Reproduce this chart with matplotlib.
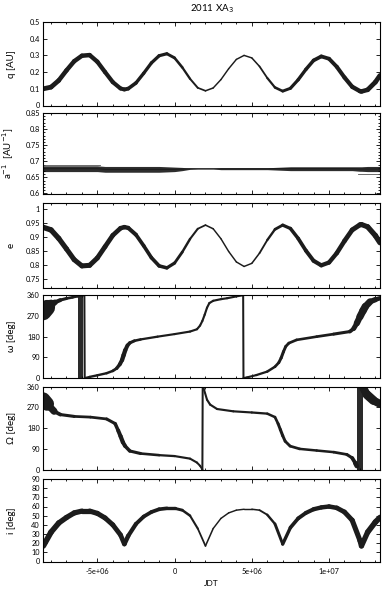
import numpy as np
import matplotlib
matplotlib.use("Agg")
import matplotlib.pyplot as plt
from matplotlib.collections import LineCollection
from matplotlib.ticker import MultipleLocator, FormatStrFormatter

plt.rcParams['font.family'] = ['Lato', 'DejaVu Sans']
plt.rcParams['mathtext.fontset'] = 'dejavusans'
plt.rcParams['mathtext.default'] = 'rm'

# ---------------- data (JDT in units of 1e6) ----------------
JDT_UNIT = 1e6
title = "2011 XA$_3$"
xlabel = "JDT"
ylabels = ["q [AU]", "a$^{-1}$  [AU$^{-1}$]", "e", "\u03c9 [deg]", "\u03a9 [deg]", "i [deg]"]
xtick_values = [-5e6, 0, 5e6, 1e7]

jdt = [-8.5, -8.0, -7.5, -7.0, -6.5, -6.0, -5.5, -5.0, -4.5, -4.0, -3.5, -3.25, -3.0,
       -2.5, -2.0, -1.5, -1.0, -0.5, 0.0, 0.5, 1.0, 1.5, 2.0, 2.5, 3.0, 3.5, 4.0, 4.5,
       5.0, 5.5, 6.0, 6.5, 7.0, 7.5, 8.0, 8.5, 9.0, 9.5, 10.0, 10.5, 11.0, 11.5, 12.0,
       12.1, 12.5, 13.0, 13.3]

q = [0.100, 0.110, 0.150, 0.210, 0.265, 0.298, 0.302, 0.262, 0.200, 0.140, 0.102, 0.096,
     0.101, 0.135, 0.193, 0.255, 0.298, 0.310, 0.285, 0.228, 0.160, 0.106, 0.088, 0.105,
     0.155, 0.220, 0.276, 0.300, 0.285, 0.234, 0.165, 0.108, 0.086, 0.103, 0.154, 0.216,
     0.270, 0.294, 0.280, 0.232, 0.168, 0.112, 0.086, 0.084, 0.094, 0.140, 0.180]

ecc = [0.934, 0.925, 0.895, 0.858, 0.820, 0.798, 0.800, 0.826, 0.866, 0.906, 0.931, 0.935,
       0.932, 0.908, 0.869, 0.827, 0.798, 0.791, 0.808, 0.847, 0.893, 0.929, 0.942, 0.929,
       0.894, 0.849, 0.812, 0.796, 0.807, 0.843, 0.889, 0.927, 0.942, 0.930, 0.895, 0.852,
       0.816, 0.800, 0.810, 0.843, 0.886, 0.925, 0.943, 0.944, 0.936, 0.905, 0.880]

incl = [17, 32, 42, 48, 53, 55, 55, 52.5, 47.5, 40, 29, 19, 28, 41, 49, 54, 57, 58, 58,
        56, 50, 36, 17, 36, 47, 53, 56, 57, 57, 56, 51, 41, 19, 37, 47, 53, 57, 59, 60,
        58.5, 54, 45, 23, 17, 32, 43, 48]

# relative scatter of the clone cloud along the integration (0 = single line)
scatter = [1.0, 1.0, 0.95, 0.9, 0.9, 0.9, 0.9, 0.85, 0.85, 0.8, 0.8, 0.75, 0.7, 0.6,
           0.55, 0.55, 0.55, 0.5, 0.4, 0.3, 0.2, 0.1, 0.05, 0.0, 0.0, 0.0, 0.0, 0.0, 0.0,
           0.05, 0.15, 0.3, 0.4, 0.5, 0.55, 0.6, 0.65, 0.7, 0.7, 0.75, 0.8, 0.85, 0.9,
           0.9, 0.95, 1.0, 1.0]
q_scatter_max = 0.010
ecc_scatter_max = 0.007
incl_scatter_max = 2.3

inv_a = [0.677, 0.677, 0.677, 0.677, 0.677, 0.677, 0.677, 0.677, 0.675, 0.675, 0.675,
         0.675, 0.675, 0.675, 0.675, 0.675, 0.675, 0.675, 0.675, 0.676, 0.677, 0.677,
         0.677, 0.677, 0.677, 0.677, 0.677, 0.677, 0.677, 0.677, 0.677, 0.677, 0.677,
         0.677, 0.677, 0.677, 0.677, 0.677, 0.677, 0.677, 0.677, 0.677, 0.676, 0.676,
         0.676, 0.676, 0.676]
inv_a_spread = [0.009, 0.009, 0.009, 0.009, 0.009, 0.009, 0.009, 0.009, 0.009, 0.009,
                0.009, 0.009, 0.009, 0.009, 0.009, 0.009, 0.009, 0.008, 0.007, 0.005,
                0.002, 0.001, 0.001, 0.001, 0.003, 0.003, 0.003, 0.003, 0.003, 0.003,
                0.003, 0.004, 0.005, 0.006, 0.006, 0.006, 0.006, 0.006, 0.006, 0.006,
                0.006, 0.006, 0.007, 0.007, 0.008, 0.008, 0.008]
inv_a_high_t = [-8.5, -4.8]
inv_a_high = [0.690, 0.690]
inv_a_low_t = [11.9, 13.3]
inv_a_low = [0.662, 0.662]

omega_t = [-8.5, -8.25, -8.0, -7.75, -7.4, -7.0, -6.6, -6.3, -6.1, -5.84, -5.82, -5.5,
           -5.0, -4.4, -4.0, -3.75, -3.55, -3.4, -3.3, -3.19, -3.05, -2.9, -2.6, -2.2,
           -1.1, 0.0, 1.0, 1.45, 1.65, 1.8, 1.95, 2.1, 2.25, 2.5, 3.0, 3.4, 4.0, 4.44,
           4.46, 4.7, 5.3, 6.0, 6.5, 6.75, 6.9, 7.05, 7.2, 7.4, 7.9, 9.2, 10.3, 11.35,
           11.6, 11.8, 12.0, 12.2, 12.35, 12.65, 13.0, 13.3]
omega = [285, 305, 320, 328, 338, 345, 350, 354, 357, 359, 1, 6, 13, 22, 32, 43, 60, 79,
         100, 122, 142, 153, 162, 168, 180, 191, 202, 212, 228, 248, 275, 305, 325, 335,
         342, 346, 354, 359, 1, 4, 14, 29, 50, 68, 88, 115, 138, 152, 166, 180, 191, 202,
         215, 238, 266, 292, 310, 331, 340, 346]
omega_spread = [40, 22, 12, 7, 4, 3, 2.5, 2, 2, 1.2, 1.2, 2, 2, 2, 2.5, 3.5, 5, 6, 6.5, 6,
                5, 4, 3, 2, 1.5, 1.5, 1.5, 1.5, 1.5, 1.5, 1.5, 1.5, 1.5, 1.5, 1.5, 1.5,
                1.5, 1.2, 1.2, 1.5, 1.5, 2, 2.5, 3, 3.5, 3.5, 3, 3, 2.5, 2.5, 3, 4, 6, 9,
                12, 13, 13, 10, 7, 6]
omega_wrap = [-6.27, -5.92]

node_t = [-8.5, -8.25, -7.8, -7.4, -6.5, -5.45, -4.4, -3.85, -3.65, -3.5, -3.35, -3.2,
          -2.9, -2.2, -1.0, 0.0, 1.0, 1.45, 1.65, 1.78, 1.80, 1.82, 1.9, 2.1, 2.3, 2.75,
          3.8, 5.0, 6.0, 6.5, 6.7, 6.85, 7.0, 7.16, 7.48, 8.1, 9.2, 10.3, 11.15, 11.5,
          11.7, 11.8, 12.0, 12.23, 12.45, 12.87, 13.3]
node = [305, 285, 253, 239, 231, 228, 220, 200, 170, 146, 120, 103, 82, 71, 64, 60, 49,
        32, 18, 5, 0, 360, 348, 303, 282, 263, 253, 248, 243, 228, 200, 174, 148, 124,
        103, 91, 84, 77, 67, 52, 30, 17, np.nan, 352, 325, 300, 285]
node_spread = [35, 18, 6, 4, 3, 2.5, 3, 4, 5, 6, 6, 5, 4, 3, 2, 1.5, 1.5, 1.2, 1.2, 1.2,
               1.2, 1.2, 1.2, 1.5, 1.5, 1.5, 1.5, 1.5, 2, 2.5, 3, 3.5, 3.5, 3, 3, 2.5, 2,
               2.5, 3, 4, 6, 8, 0, 12, 16, 16, 12]
node_wrap = [11.8, 12.23]

# ---------------- figure ----------------
W, H, DPI = 382, 589, 100
fig = plt.figure(figsize=(W / DPI, H / DPI), dpi=DPI)
LEFT, RIGHT = 43.3, 380.0
panels_px = [(22, 105.5), (113, 193.5), (203, 288), (295, 378.3), (386.5, 470), (479, 561.5)]
ylims = [(0, 0.5), (0.6, 0.85), (0.72, 1.02), (0, 360), (0, 360), (0, 90)]
ysteps = [0.1, 0.05, 0.05, 90, 90, 10]
yminor = [None, 0.01, None, None, None, None]
XLIM = (-8.5e6, 13.3e6)
INK = '#1c1c1c'

axes = []
for k, (top, bot) in enumerate(panels_px):
    ax = fig.add_axes([LEFT / W, 1 - bot / H, (RIGHT - LEFT) / W, (bot - top) / H])
    ax.set_xlim(*XLIM)
    ax.set_ylim(*ylims[k])
    ax.xaxis.set_major_locator(MultipleLocator(5e6))
    ax.xaxis.set_minor_locator(MultipleLocator(1e6))
    ax.yaxis.set_major_locator(MultipleLocator(ysteps[k]))
    if yminor[k]:
        ax.yaxis.set_minor_locator(MultipleLocator(yminor[k]))
    ax.yaxis.set_major_formatter(FormatStrFormatter('%g'))
    ax.xaxis.set_major_formatter(FormatStrFormatter('%g'))
    ax.tick_params(which='both', direction='in', top=True, right=True, width=0.6,
                   labelsize=5.3, colors='black')
    ax.tick_params(which='major', length=3.0)
    ax.tick_params(which='minor', length=1.6)
    ax.tick_params(axis='y', pad=2.5)
    ax.tick_params(axis='x', pad=5)
    for s in ax.spines.values():
        s.set_linewidth(0.8)
    if k < 5:
        ax.tick_params(axis='x', labelbottom=False)
    ax.set_ylabel(ylabels[k], fontsize=7)
    ax.yaxis.set_label_coords((15.5 - LEFT) / (RIGHT - LEFT), 0.5)
    axes.append(ax)


def cloud(ax, t, y, spread, base=1.05, color=INK):
    t = np.asarray(t, float) * JDT_UNIT
    y = np.asarray(y, float)
    s = np.asarray(spread, float)
    y0, y1 = ax.get_ylim()
    bb = ax.get_window_extent()
    pts_per_unit = bb.height / (y1 - y0) * 72.0 / fig.dpi
    segs, lws = [], []
    for k in range(len(t) - 1):
        if np.isnan(y[k]) or np.isnan(y[k + 1]):
            continue
        segs.append([(t[k], y[k]), (t[k + 1], y[k + 1])])
        lws.append(base + (s[k] + s[k + 1]) * pts_per_unit)
    lc = LineCollection(segs, linewidths=lws, colors=color,
                        capstyle='round', joinstyle='round')
    ax.add_collection(lc)


sc = np.asarray(scatter)
cloud(axes[0], jdt, q, sc * q_scatter_max)
cloud(axes[2], jdt, ecc, sc * ecc_scatter_max)
cloud(axes[5], jdt, incl, sc * incl_scatter_max)

# 1/a
ta = np.asarray(jdt) * JDT_UNIT
ia = np.asarray(inv_a)
isp = np.asarray(inv_a_spread)
axes[1].fill_between(ta, ia - isp, ia + isp, color='#2e2e2e', lw=0)
axes[1].plot(ta, ia, color=INK, lw=0.8)
axes[1].plot(np.asarray(inv_a_high_t) * JDT_UNIT, inv_a_high, color='#555555', lw=0.6)
axes[1].plot(np.asarray(inv_a_low_t) * JDT_UNIT, inv_a_low, color='#555555', lw=0.6)

# omega and node
axes[3].axvspan(omega_wrap[0] * JDT_UNIT, omega_wrap[1] * JDT_UNIT, color='#2a2a2a', lw=0)
cloud(axes[3], omega_t, omega, omega_spread)
axes[4].axvspan(node_wrap[0] * JDT_UNIT, node_wrap[1] * JDT_UNIT, color='#2a2a2a', lw=0)
cloud(axes[4], node_t, node, node_spread)

axes[5].set_xticks(xtick_values)

cx = (LEFT + RIGHT) / 2 / W
fig.text(cx, 1 - 8.5 / H, title, ha='center', va='center', fontsize=7)
fig.text(cx, 1 - 584 / H, xlabel, ha='center', va='center', fontsize=6)

fig.savefig('out.png', dpi=DPI)
